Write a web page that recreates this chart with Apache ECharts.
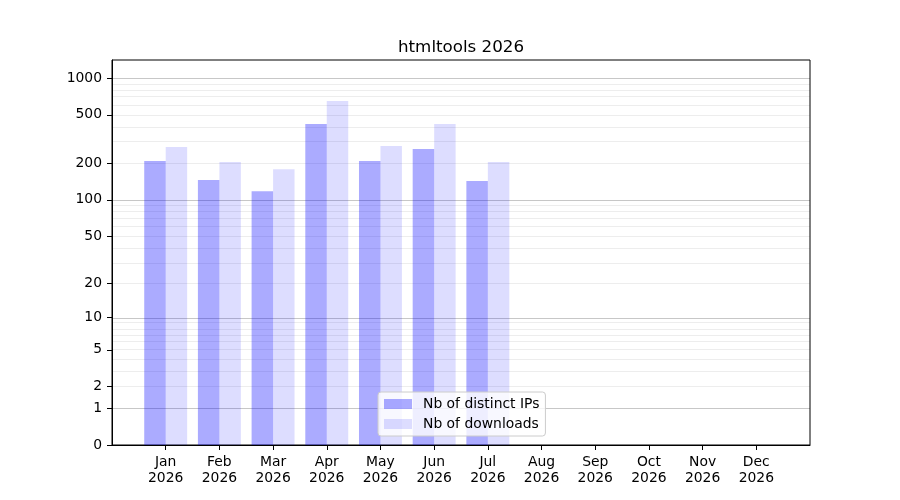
<!DOCTYPE html>
<html>
<head>
<meta charset="utf-8">
<script src="https://cdn.jsdelivr.net/npm/echarts@6/dist/echarts.min.js"></script>
<style>
  html, body { margin: 0; padding: 0; background: #fff; }
  #chart { width: 900px; height: 500px; }
</style>
</head>
<body>
<div id="chart"></div>
<script>
const title = 'htmltools 2026';
const months = ['Jan', 'Feb', 'Mar', 'Apr', 'May', 'Jun', 'Jul', 'Aug', 'Sep', 'Oct', 'Nov', 'Dec'];
const year = '2026';
const distinct_ips = [209, 146, 118, 421, 209, 262, 143, null, null, null, null, null];
const downloads = [272, 205, 179, 649, 278, 421, 205, null, null, null, null, null];
const y_ticks = [0, 1, 2, 5, 10, 20, 50, 100, 200, 500, 1000];
const major_grid = [1, 10, 100, 1000];
const minor_grid = [2, 3, 4, 5, 6, 7, 8, 9, 20, 30, 40, 50, 60, 70, 80, 90, 200, 300, 400, 500, 600, 700, 800, 900];
const y_top = 1405;

// the y scale is log10(v + 1), so 0 sits on the bottom of the axes
const tf = (v) => v == null ? null : Math.log10(v + 1);
const font = 'DejaVu Sans';

// pad one empty category on each side, like the original x limits
const cats = [''].concat(months.map(m => m + '\n' + year), ['']);
const pad = (arr) => [null].concat(arr.map(tf), [null]);

const gridLines = [];
for (const v of minor_grid) {
    gridLines.push({yAxis: tf(v), lineStyle: {color: 'rgba(0,0,0,0.07)', width: 1, type: 'solid'}});
}
for (const v of major_grid) {
    gridLines.push({yAxis: tf(v), lineStyle: {color: 'rgba(0,0,0,0.22)', width: 1, type: 'solid'}});
}

const option = {
    animation: false,
    backgroundColor: '#fff',
    title: {
        text: title,
        left: 398,
        top: 39,
        padding: 0,
        textStyle: {fontFamily: font, fontSize: 16.7, fontWeight: 'normal', color: '#000'},
    },
    legend: {
        orient: 'vertical',
        left: 378,
        top: 392,
        padding: [5, 6, 5, 6],
        itemGap: 6,
        itemWidth: 28,
        itemHeight: 10,
        icon: 'rect',
        backgroundColor: 'rgba(255,255,255,0.8)',
        borderColor: '#cccccc',
        borderWidth: 1,
        borderRadius: 3,
        textStyle: {fontFamily: font, fontSize: 13.9, color: '#000', padding: [0, 0, 0, 6]},
        data: ['Nb of distinct IPs', 'Nb of downloads'],
    },
    grid: {
        left: 112,
        right: 90,
        top: 60,
        bottom: 55,
        show: true,
        borderColor: '#000',
        borderWidth: 1,
        backgroundColor: 'transparent',
    },
    xAxis: {
        type: 'category',
        data: cats,
        boundaryGap: false,
        axisLine: {show: true, lineStyle: {color: '#000', width: 1}},
        axisTick: {
            show: true,
            length: 5,
            lineStyle: {color: '#000', width: 1},
            interval: (idx, val) => val !== '',
        },
        axisLabel: {
            interval: 0,
            margin: 9,
            fontFamily: font,
            fontSize: 13.9,
            lineHeight: 16,
            color: '#000',
        },
        splitLine: {show: false},
    },
    yAxis: {
        type: 'value',
        min: 0,
        max: tf(y_top),
        axisLine: {show: true, lineStyle: {color: '#000', width: 1}},
        axisTick: {
            show: true,
            length: 5,
            lineStyle: {color: '#000', width: 1},
            customValues: y_ticks.map(tf),
        },
        axisLabel: {
            margin: 10,
            padding: [4, 0, 0, 0],
            fontFamily: font,
            fontSize: 13.9,
            color: '#000',
            customValues: y_ticks.map(tf),
            formatter: (v) => String(Math.round(Math.pow(10, v) - 1)),
        },
        splitLine: {show: false},
    },
    series: [
        {
            name: 'Nb of distinct IPs',
            type: 'bar',
            data: pad(distinct_ips),
            barGap: '0%',
            barCategoryGap: '20%',
            itemStyle: {color: 'rgba(0,0,255,0.33)'},
            z: 2,
            markLine: {
                silent: true,
                symbol: 'none',
                z: 1,
                label: {show: false},
                emphasis: {disabled: true},
                data: gridLines,
            },
        },
        {
            name: 'Nb of downloads',
            type: 'bar',
            data: pad(downloads),
            barGap: '0%',
            barCategoryGap: '20%',
            itemStyle: {color: 'rgba(0,0,255,0.135)'},
            z: 2,
        },
    ],
};

const myChart = echarts.init(document.getElementById('chart'), null, {renderer: 'canvas'});
myChart.setOption(option);
</script>
</body>
</html>
